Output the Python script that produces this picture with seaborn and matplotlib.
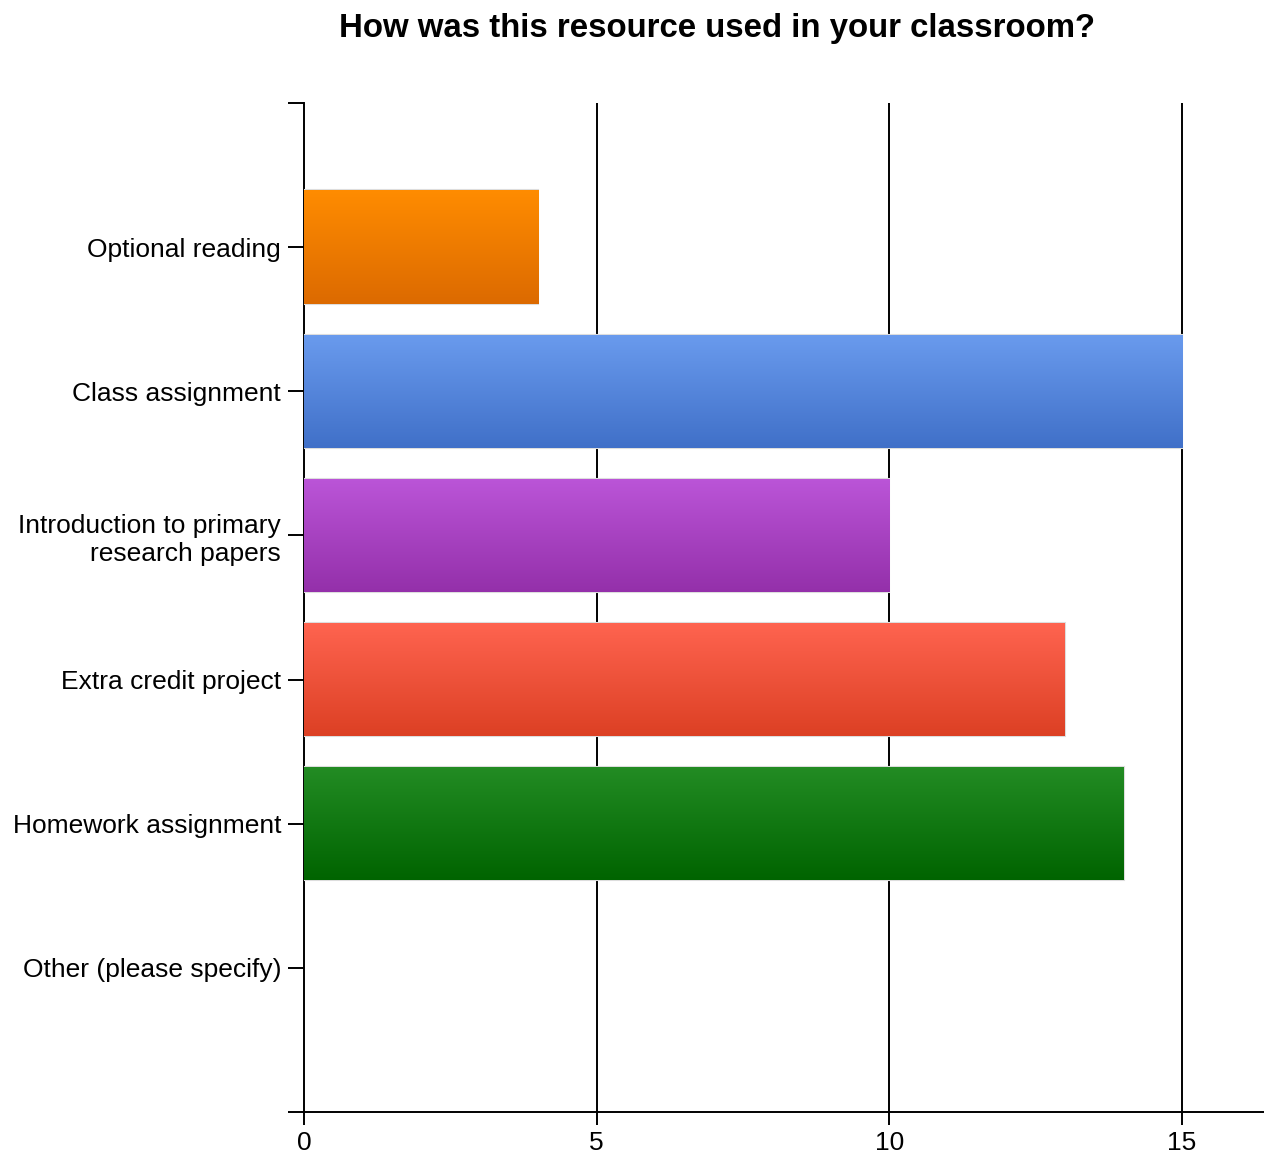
import numpy as np
import pandas as pd
import matplotlib
matplotlib.use("Agg")
import matplotlib.pyplot as plt
from matplotlib.colors import LinearSegmentedColormap
import seaborn as sns

categories = [
    "Optional reading",
    "Class assignment",
    "Introduction to primary\nresearch papers",
    "Extra credit project",
    "Homework assignment",
    "Other (please specify)",
]
counts = [4, 15, 10, 13, 14, 0]
top_colors = ["#FF8C00", "#6A9BEE", "#BB55D8", "#FF6450", "#238C24", "#888888"]
bottom_colors = ["#DC6A00", "#4070C8", "#9430AA", "#DC4024", "#006400", "#666666"]
x_ticks = [0, 5, 10, 15]

sns.set_theme(style="white")
plt.rcParams["font.family"] = ["Liberation Sans", "DejaVu Sans"]

df = pd.DataFrame({"category": categories, "count": counts})

fig = plt.figure(figsize=(12.64, 11.57), dpi=100)
ax = fig.add_axes([0.2405, 0.0389, 0.7595, 0.8722])

sns.barplot(data=df, x="count", y="category", hue="category",
            palette=top_colors, order=categories, hue_order=categories,
            orient="h", width=0.785, legend=False, ax=ax, zorder=3,
            edgecolor="#DDDDDD", linewidth=1.5)

# vertical gradient inside each bar
for patch, c_top, c_bot in zip(ax.patches, top_colors, bottom_colors):
    if patch.get_width() <= 0:
        patch.set_visible(False)
        continue
    x0, y0 = patch.get_x(), patch.get_y()
    w, h = patch.get_width(), patch.get_height()
    cmap = LinearSegmentedColormap.from_list("g", [c_top, c_bot])
    grad = np.linspace(0, 1, 256).reshape(-1, 1)
    im = ax.imshow(grad, cmap=cmap, aspect="auto",
                   extent=[x0, x0 + w, y0 + h, y0], origin="upper",
                   zorder=3.5, interpolation="bilinear")
    im.set_clip_path(patch)

ax.set_xlim(0, 16.4)
ax.set_ylim(6, -1)
ax.set_xticks(x_ticks)
ax.set_xticklabels([str(t) for t in x_ticks])
ax.set_yticks(range(len(categories)))
ax.set_yticklabels(categories, ha="right", multialignment="right")
ax.set_yticks([-1, 6], minor=True)

for xv in x_ticks[1:]:
    ax.axvline(xv, color="black", lw=1.4, zorder=1)

for s in ["top", "right"]:
    ax.spines[s].set_visible(False)
for s in ["left", "bottom"]:
    ax.spines[s].set_color("black")
    ax.spines[s].set_linewidth(1.4)

ax.tick_params(axis="y", which="both", left=True, length=11.5, width=1.4,
               color="black", labelsize=19, pad=5, labelcolor="black")
ax.tick_params(axis="x", bottom=True, length=9, width=1.4, color="black",
               labelsize=19, pad=5, labelcolor="black")
ax.set_xlabel("")
ax.set_ylabel("")
ax.set_facecolor("white")

fig.text(0.5676, 0.975, "How was this resource used in your classroom?",
         ha="center", va="center", fontsize=23.8, fontweight="bold", color="black")

fig.savefig("out.png", dpi=100, facecolor="white")
